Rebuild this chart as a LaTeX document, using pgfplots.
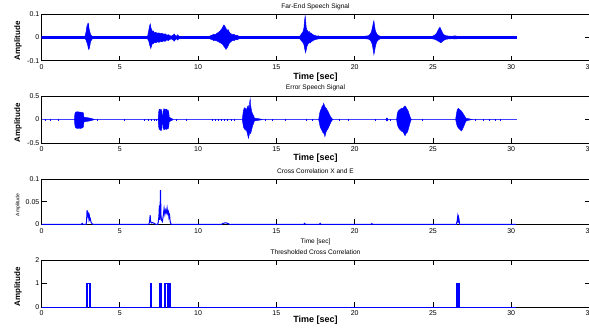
\documentclass[border=0pt]{standalone}
\usepackage{pgfplots}
\pgfplotsset{compat=1.18}
\usepackage{fontspec}
\setmainfont{Liberation Sans}
\begin{document}
\begin{tikzpicture}
\pgfplotsset{
  every axis/.append style={
    scale only axis, width=548pt, anchor=south west,
    xmin=0, xmax=35, xtick={0,5,...,35},
    xticklabels={0,5,10,15,20,25,30,35},
    tick align=inside, major tick length=5pt,
    tick style={black, line width=0.6pt},
    axis line style={black, line width=0.8pt},
    /pgf/number format/assume math mode=true,
    ticklabel style={font=\fontsize{7}{8}\selectfont},
    xticklabel style={anchor=center, yshift=-6.5pt},
    yticklabel style={anchor=east, inner sep=1pt, xshift=-1pt},
    clip=true,
  },
  every axis title/.style={at={(0.5,1)}, anchor=center, yshift=8pt, font=\fontsize{6.6}{8}\selectfont},
  every axis x label/.style={at={(0.5,0)}, anchor=center, yshift=-16.5pt, font=\fontsize{9}{10}\selectfont\bfseries},
  every axis y label/.style={at={(0,0.5)}, xshift=-23.5pt, yshift=-3.5pt, rotate=90, anchor=center, font=\fontsize{8}{9}\selectfont\bfseries},
}
% ---------------- Panel 1 ----------------
\begin{axis}[at={(41.5pt,-60.7pt)}, height=46.4pt,
  ymin=-0.1, ymax=0.1, ytick={-0.1,0,0.1}, yticklabels={-0.1,0,0.1},
  title={Far-End Speech Signal}, xlabel={Time [sec]}, ylabel={Amplitude}]
\addplot[blue, line width=2.2pt] coordinates {(0,0) (30.35,0)};
\addplot[blue, fill=blue, line width=0.5pt] coordinates {(0,0) (0.02,0.004) (0.4,0.004) (0.5,0) (0.4,-0.004) (0.02,-0.004)} --cycle;
\addplot[blue, fill=blue, line width=0.5pt] coordinates {
(2.70,0) (2.75,0.004) (2.80,0.010) (2.84,0.022) (2.87,0.035) (2.90,0.048) (2.93,0.040) (2.95,0.058) (2.97,0.061) (2.99,0.052) (3.01,0.056) (3.03,0.040) (3.06,0.032) (3.09,0.024) (3.12,0.016) (3.16,0.010) (3.22,0.006) (3.30,0.003) (3.40,0)
(3.30,-0.003) (3.22,-0.008) (3.16,-0.014) (3.12,-0.022) (3.09,-0.035) (3.06,-0.045) (3.03,-0.050) (3.01,-0.040) (2.99,-0.046) (2.97,-0.038) (2.94,-0.030) (2.90,-0.022) (2.86,-0.014) (2.82,-0.008) (2.76,-0.004)} --cycle;
\addplot[blue, fill=blue, line width=0.5pt] coordinates {
(5.65,0) (5.70,0.004) (6.00,0.003) (6.30,0.005) (6.60,0.004) (6.78,0.006) (6.85,0.030) (6.90,0.050) (6.95,0.058) (6.98,0.045) (7.02,0.035) (7.06,0.030) (7.10,0.024) (7.15,0.028) (7.20,0.020) (7.30,0.022) (7.40,0.018) (7.50,0.020) (7.60,0.016) (7.70,0.018) (7.80,0.014) (7.90,0.016) (8.00,0.010) (8.10,0.012) (8.20,0.008) (8.30,0.006) (8.40,0.010) (8.48,0.015) (8.55,0.008) (8.62,0.005) (8.70,0.012) (8.76,0.006) (8.85,0.003) (8.90,0)
(8.85,-0.003) (8.76,-0.006) (8.70,-0.011) (8.62,-0.005) (8.55,-0.009) (8.48,-0.016) (8.40,-0.010) (8.30,-0.006) (8.20,-0.008) (8.10,-0.013) (8.00,-0.010) (7.90,-0.017) (7.80,-0.014) (7.70,-0.019) (7.60,-0.016) (7.50,-0.021) (7.40,-0.018) (7.30,-0.023) (7.20,-0.020) (7.15,-0.026) (7.10,-0.024) (7.06,-0.030) (7.02,-0.038) (6.98,-0.047) (6.95,-0.040) (6.90,-0.030) (6.85,-0.015) (6.78,-0.006) (6.60,-0.004) (6.30,-0.005) (6.00,-0.003) (5.70,-0.004)} --cycle;
\addplot[blue, fill=blue, line width=0.5pt] coordinates {
(10.60,0) (10.70,0.004) (10.80,0.008) (10.90,0.010) (11.00,0.014) (11.10,0.012) (11.20,0.018) (11.30,0.022) (11.40,0.028) (11.50,0.036) (11.58,0.045) (11.65,0.054) (11.72,0.048) (11.78,0.040) (11.85,0.030) (11.92,0.034) (12.00,0.022) (12.10,0.016) (12.20,0.012) (12.30,0.014) (12.40,0.008) (12.50,0.010) (12.60,0.005) (12.70,0.004) (12.80,0)
(12.70,-0.004) (12.60,-0.006) (12.50,-0.010) (12.40,-0.009) (12.30,-0.013) (12.20,-0.012) (12.10,-0.018) (12.00,-0.024) (11.92,-0.036) (11.85,-0.045) (11.78,-0.051) (11.72,-0.044) (11.65,-0.038) (11.58,-0.030) (11.50,-0.026) (11.40,-0.022) (11.30,-0.018) (11.20,-0.015) (11.10,-0.012) (11.00,-0.013) (10.90,-0.009) (10.80,-0.007) (10.70,-0.004)} --cycle;
\addplot[blue, fill=blue, line width=0.5pt] coordinates {
(16.40,0) (16.50,0.006) (16.60,0.015) (16.70,0.025) (16.76,0.040) (16.80,0.070) (16.84,0.093) (16.87,0.075) (16.90,0.045) (16.95,0.032) (17.00,0.028) (17.05,0.022) (17.10,0.026) (17.15,0.018) (17.20,0.020) (17.30,0.014) (17.40,0.010) (17.50,0.008) (17.60,0.006) (17.70,0.007) (17.80,0.004) (17.90,0.003) (18.00,0)
(17.90,-0.003) (17.80,-0.005) (17.70,-0.006) (17.60,-0.007) (17.50,-0.009) (17.40,-0.011) (17.30,-0.015) (17.20,-0.020) (17.15,-0.024) (17.10,-0.020) (17.05,-0.026) (17.00,-0.030) (16.95,-0.040) (16.90,-0.055) (16.87,-0.065) (16.84,-0.058) (16.80,-0.045) (16.76,-0.030) (16.70,-0.022) (16.60,-0.014) (16.50,-0.006)} --cycle;
\addplot[blue, fill=blue, line width=0.5pt] coordinates {
(19.80,0) (19.85,0.004) (20.10,0.005) (20.40,0.004) (20.70,0.006) (20.90,0.008) (21.00,0.015) (21.08,0.025) (21.14,0.045) (21.20,0.065) (21.23,0.072) (21.27,0.050) (21.32,0.030) (21.38,0.020) (21.45,0.012) (21.55,0.008) (21.65,0.004) (21.70,0)
(21.65,-0.004) (21.55,-0.009) (21.45,-0.014) (21.38,-0.024) (21.32,-0.040) (21.27,-0.060) (21.23,-0.073) (21.20,-0.058) (21.14,-0.035) (21.08,-0.020) (21.00,-0.012) (20.90,-0.007) (20.70,-0.005) (20.40,-0.005) (20.10,-0.004) (19.85,-0.004)} --cycle;
\addplot[blue, fill=blue, line width=0.5pt] coordinates {
(23.85,0) (23.90,0.005) (24.20,0.004) (24.50,0.005) (24.80,0.004) (25.00,0.006) (25.15,0.012) (25.25,0.020) (25.32,0.030) (25.40,0.040) (25.45,0.044) (25.50,0.036) (25.56,0.028) (25.62,0.018) (25.70,0.012) (25.80,0.008) (26.00,0.006) (26.20,0.005) (26.40,0.007) (26.60,0.005) (26.80,0)
(26.60,-0.005) (26.40,-0.006) (26.20,-0.005) (26.00,-0.006) (25.80,-0.008) (25.70,-0.012) (25.62,-0.016) (25.56,-0.020) (25.50,-0.022) (25.45,-0.020) (25.40,-0.018) (25.32,-0.015) (25.25,-0.012) (25.15,-0.008) (25.00,-0.006) (24.80,-0.004) (24.50,-0.005) (24.20,-0.004) (23.90,-0.005)} --cycle;
\addplot[blue, fill=blue, line width=0.5pt] coordinates {
(28.80,0) (28.85,0.005) (29.20,0.004) (29.60,0.005) (30.00,0.004) (30.30,0.005) (30.35,0) (30.30,-0.005) (30.00,-0.004) (29.60,-0.005) (29.20,-0.004) (28.85,-0.005)} --cycle;
\end{axis}
% ---------------- Panel 2 ----------------
\begin{axis}[at={(41.5pt,-143pt)}, height=47pt,
  ymin=-0.5, ymax=0.5, ytick={-0.5,0,0.5}, yticklabels={-0.5,0,0.5},
  title={Error Speech Signal}, xlabel={Time [sec]}, ylabel={Amplitude},
  every axis x label/.append style={yshift=1.2pt}]
\addplot[blue!75, line width=0.9pt] coordinates {(0,0) (30.35,0)};
\addplot[blue, ycomb, line width=0.9pt] coordinates {(0.25,0.02) (0.6,0.015) (1.06,0.02) (3.6,0.015) (5.3,0.015) (6.6,0.02) (6.8,0.015) (7.0,0.02) (7.2,0.015) (7.35,0.02) (8.6,0.015) (9.25,0.02) (10.9,0.015) (11.1,0.02) (11.3,0.015) (11.5,0.02) (11.7,0.015) (11.9,0.02) (12.1,0.015) (12.3,0.02) (14.3,0.02) (14.75,0.02) (15.6,0.015) (16.9,0.015) (17.3,0.02) (19.0,0.015) (19.6,0.02) (21.3,0.02) (22.3,0.015) (24.3,0.015) (27.7,0.02) (28.2,0.02) (28.6,0.015) (29.0,0.02) (29.3,0.015)};
\addplot[blue, ycomb, line width=0.9pt] coordinates {(0.25,-0.02) (0.6,-0.015) (1.06,-0.02) (3.6,-0.015) (5.3,-0.015) (6.6,-0.02) (6.8,-0.015) (7.0,-0.02) (7.2,-0.015) (7.35,-0.02) (8.6,-0.015) (9.25,-0.02) (10.9,-0.015) (11.1,-0.02) (11.3,-0.015) (11.5,-0.02) (11.7,-0.015) (11.9,-0.02) (12.1,-0.015) (12.3,-0.02) (14.3,-0.02) (14.75,-0.02) (15.6,-0.015) (16.9,-0.015) (17.3,-0.02) (19.0,-0.015) (19.6,-0.02) (21.3,-0.02) (22.3,-0.015) (24.3,-0.015) (27.7,-0.02) (28.2,-0.02) (28.6,-0.015) (29.0,-0.02) (29.3,-0.015)};
\addplot[blue, fill=blue, line width=0.4pt] coordinates {
(2.10,0) (2.13,0.12) (2.16,0.15) (2.20,0.16) (2.30,0.165) (2.40,0.16) (2.50,0.155) (2.60,0.15) (2.68,0.14) (2.71,0.05) (2.80,0.045) (2.90,0.04) (3.00,0.035) (3.10,0.03) (3.20,0.02) (3.30,0.01) (3.40,0)
(3.30,-0.01) (3.20,-0.02) (3.10,-0.03) (3.00,-0.035) (2.90,-0.04) (2.80,-0.045) (2.71,-0.05) (2.68,-0.16) (2.60,-0.18) (2.50,-0.19) (2.40,-0.185) (2.30,-0.19) (2.20,-0.18) (2.16,-0.16) (2.13,-0.12)} --cycle;
\addplot[blue, fill=blue, line width=0.4pt] coordinates {
(7.45,0) (7.48,0.15) (7.52,0.22) (7.58,0.20) (7.64,0.22) (7.68,0.18) (7.71,0.05) (7.74,0.04) (7.77,0.18) (7.82,0.23) (7.90,0.21) (7.98,0.22) (8.05,0.20) (8.12,0.18) (8.16,0.05) (8.25,0.03) (8.35,0.015) (8.40,0)
(8.35,-0.015) (8.25,-0.03) (8.16,-0.05) (8.12,-0.18) (8.05,-0.20) (7.98,-0.21) (7.90,-0.20) (7.82,-0.22) (7.77,-0.18) (7.74,-0.04) (7.71,-0.05) (7.68,-0.20) (7.64,-0.24) (7.58,-0.22) (7.52,-0.21) (7.48,-0.15)} --cycle;
\addplot[blue, fill=blue, line width=0.4pt] coordinates {
(12.82,0) (12.86,0.10) (12.90,0.20) (12.96,0.25) (13.02,0.24) (13.08,0.20) (13.14,0.26) (13.20,0.30) (13.26,0.22) (13.30,0.38) (13.33,0.44) (13.36,0.30) (13.42,0.18) (13.48,0.12) (13.55,0.08) (13.60,0.03) (13.70,0.025) (13.80,0.02) (13.90,0.015) (14.00,0.01) (14.10,0)
(14.00,-0.01) (13.90,-0.015) (13.80,-0.02) (13.70,-0.025) (13.60,-0.03) (13.55,-0.08) (13.48,-0.14) (13.42,-0.22) (13.36,-0.30) (13.30,-0.28) (13.22,-0.40) (13.16,-0.32) (13.10,-0.24) (13.02,-0.22) (12.96,-0.20) (12.90,-0.16) (12.86,-0.08)} --cycle;
\addplot[blue, fill=blue, line width=0.4pt] coordinates {
(17.70,0) (17.75,0.10) (17.80,0.18) (17.86,0.22) (17.92,0.28) (17.98,0.30) (18.02,0.345) (18.07,0.30) (18.12,0.26) (18.18,0.24) (18.25,0.20) (18.32,0.16) (18.40,0.10) (18.48,0.05) (18.55,0.02) (18.62,0)
(18.55,-0.02) (18.48,-0.06) (18.40,-0.12) (18.32,-0.18) (18.25,-0.22) (18.18,-0.26) (18.10,-0.366) (18.05,-0.30) (17.98,-0.28) (17.92,-0.24) (17.86,-0.20) (17.80,-0.16) (17.75,-0.08)} --cycle;
\addplot[blue, fill=blue, line width=0.4pt] coordinates {
(22.00,0) (22.03,0.03) (22.10,0.03) (22.13,0) (22.10,-0.03) (22.03,-0.03)} --cycle;
\addplot[blue, fill=blue, line width=0.4pt] coordinates {
(22.68,0) (22.72,0.12) (22.78,0.18) (22.85,0.20) (22.92,0.22) (23.00,0.24) (23.08,0.23) (23.15,0.27) (23.22,0.29) (23.28,0.26) (23.35,0.22) (23.42,0.18) (23.50,0.10) (23.56,0.04) (23.62,0)
(23.56,-0.05) (23.50,-0.12) (23.42,-0.22) (23.35,-0.28) (23.28,-0.30) (23.22,-0.345) (23.15,-0.30) (23.08,-0.26) (23.00,-0.25) (22.92,-0.22) (22.85,-0.20) (22.78,-0.16) (22.72,-0.10)} --cycle;
\addplot[blue, fill=blue, line width=0.4pt] coordinates {
(26.45,0) (26.50,0.12) (26.55,0.20) (26.62,0.24) (26.68,0.22) (26.75,0.20) (26.82,0.18) (26.90,0.14) (26.98,0.10) (27.05,0.06) (27.10,0.03) (27.20,0.02) (27.35,0.012) (27.50,0)
(27.35,-0.012) (27.20,-0.02) (27.10,-0.04) (27.05,-0.08) (26.98,-0.14) (26.90,-0.20) (26.82,-0.245) (26.75,-0.22) (26.68,-0.20) (26.62,-0.18) (26.55,-0.14) (26.50,-0.08)} --cycle;
\end{axis}
% ---------------- Panel 3 ----------------
\begin{axis}[at={(41.5pt,-224.3pt)}, height=45.3pt,
  ymin=0, ymax=0.1, ytick={0,0.05,0.1}, yticklabels={0,0.05,0.1},
  title={Cross Correlation X and E}, xlabel={Time [sec]}, ylabel={Amplitude},
  every axis x label/.append style={yshift=-1.2pt, font=\fontsize{6.5}{7.5}\selectfont},
  every axis y label/.append style={font=\fontsize{5}{6}\selectfont}]
\addplot[blue, line width=1pt] coordinates {
(0,0) (2.55,0) (2.60,0.002) (2.65,0) (2.85,0) (2.88,0.008) (2.91,0.031) (2.94,0.024) (2.97,0.018) (3.00,0.022) (3.03,0.012) (3.06,0.018) (3.09,0.010) (3.12,0.012) (3.16,0.005) (3.22,0.002) (3.28,0)
(6.85,0) (6.90,0.005) (6.94,0.020) (6.97,0.006) (7.02,0.003) (7.10,0.004) (7.20,0.002) (7.30,0)
(7.42,0) (7.46,0.005) (7.50,0.018) (7.53,0.042) (7.56,0.010) (7.60,0.0756) (7.63,0.02) (7.66,0.010) (7.72,0.006) (7.78,0.020) (7.83,0.035) (7.88,0.022) (7.93,0.031) (7.97,0.026) (8.02,0.036) (8.06,0.024) (8.10,0.028) (8.14,0.015) (8.18,0.020) (8.22,0.006) (8.28,0)
(11.5,0) (11.6,0.002) (11.7,0.003) (11.8,0.003) (11.9,0.002) (12.0,0)
(16.75,0) (16.8,0.002) (16.85,0) (17.75,0) (17.8,0.002) (17.85,0) (21.05,0) (21.1,0.0015) (21.15,0)
(26.50,0) (26.55,0.008) (26.58,0.016) (26.61,0.004) (26.64,0.015) (26.67,0.010) (26.70,0) (30.3,0)};
\end{axis}
% ---------------- Panel 4 ----------------
\begin{axis}[at={(41.5pt,-307pt)}, height=47pt,
  ymin=0, ymax=2, ytick={0,1,2}, yticklabels={0,1,2},
  title={Thresholded Cross Correlation}, xlabel={Time [sec]}, ylabel={Amplitude},
  every axis x label/.append style={yshift=3.5pt}]
\addplot[blue, line width=0.6pt] coordinates {
(0,0) (2.86,0) (2.86,1) (2.92,1) (2.92,0) (2.94,0) (2.94,1) (3.08,1) (3.08,0) (3.10,0) (3.10,1) (3.14,1) (3.14,0)
(6.97,0) (6.97,1) (6.99,1) (6.99,0)
(7.53,0) (7.53,1) (7.58,1) (7.58,0) (7.60,0) (7.60,1) (7.66,1) (7.66,0) (7.83,0) (7.83,1) (7.90,1) (7.90,0) (7.93,0) (7.93,1) (8.03,1) (8.03,0) (8.06,0) (8.06,1) (8.13,1) (8.13,0) (8.16,0) (8.16,1) (8.24,1) (8.24,0)
(26.50,0) (26.50,1) (26.54,1) (26.54,0) (26.56,0) (26.56,1) (26.60,1) (26.60,0) (26.62,0) (26.62,1) (26.66,1) (26.66,0) (26.67,0) (26.67,1) (26.70,1) (26.70,0) (30.3,0)};
\end{axis}
\pgfresetboundingbox
\path (0pt,0pt) rectangle (589pt,-329pt);
\end{tikzpicture}
\end{document}
